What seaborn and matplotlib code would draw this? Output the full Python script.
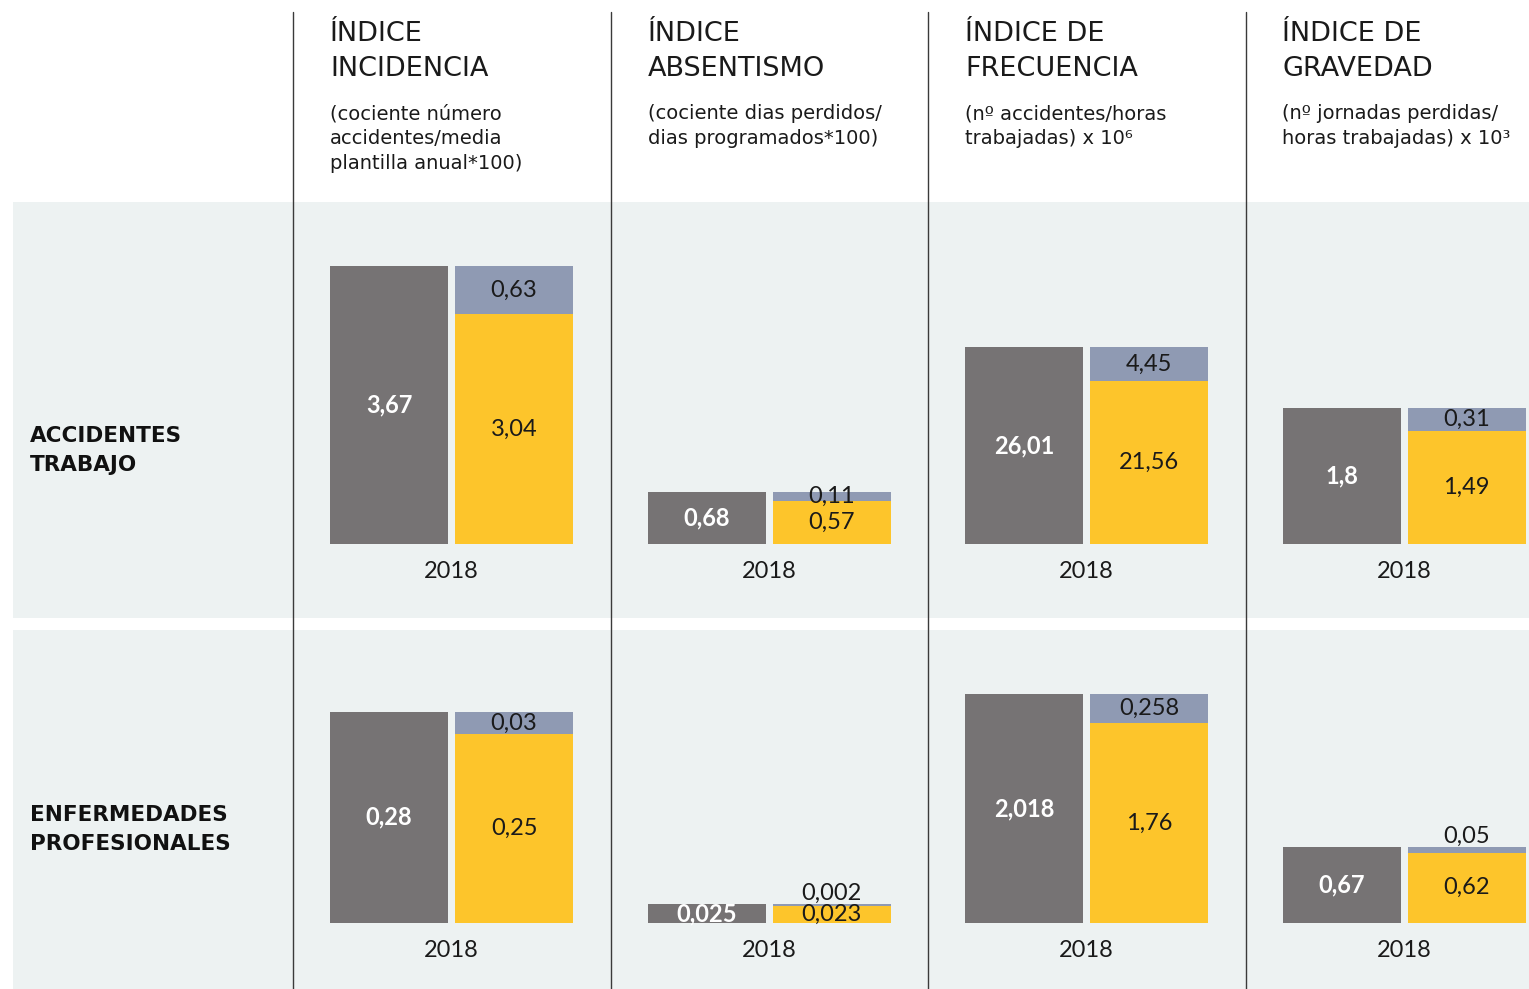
import numpy as np
import pandas as pd
import matplotlib
matplotlib.use("Agg")
import matplotlib.pyplot as plt
from matplotlib.patches import Rectangle
import seaborn as sns

# headers and row names
indices = ["ÍNDICE\nINCIDENCIA", "ÍNDICE\nABSENTISMO", "ÍNDICE DE\nFRECUENCIA", "ÍNDICE DE\nGRAVEDAD"]
subtitles = ["(cociente número\naccidentes/media\nplantilla anual*100)",
             "(cociente dias perdidos/\ndias programados*100)",
             "(nº accidentes/horas\ntrabajadas) x 10⁶",
             "(nº jornadas perdidas/\nhoras trabajadas) x 10³"]
rows = ["ACCIDENTES\nTRABAJO", "ENFERMEDADES\nPROFESIONALES"]
year = "2018"

# values: grey total, yellow part, blue part
total_at = [3.67, 0.68, 26.01, 1.8]
yellow_at = [3.04, 0.57, 21.56, 1.49]
blue_at = [0.63, 0.11, 4.45, 0.31]
total_ep = [0.28, 0.025, 2.018, 0.67]
yellow_ep = [0.25, 0.023, 1.76, 0.62]
blue_ep = [0.03, 0.002, 0.258, 0.05]

GREY = "#767374"
BLUE = "#8F9AB3"
YELLOW = "#FDC52B"
BAND = "#EDF2F2"
INK = "#1a1a1a"

W, H = 1529, 989
panel_x = [293, 610.5, 928, 1245.5]
row_base = [544, 923]
row_height = [334, 283]
ymax = [[4.41, 4.41, 44.1, 4.41], [0.375, 0.375, 2.493, 2.493]]

sns.set_theme(style="white")
plt.rcParams["font.family"] = ["DejaVu Sans"]
NUM_FONT = ["Lato", "DejaVu Sans"]

fig = plt.figure(figsize=(W / 100, H / 100), dpi=100)
bg = fig.add_axes([0, 0, 1, 1])
bg.set_xlim(0, W)
bg.set_ylim(H, 0)
bg.axis("off")

# row bands and column rules
bg.add_patch(Rectangle((13, 202), W - 13, 416, color=BAND, lw=0))
bg.add_patch(Rectangle((13, 630), W - 13, H - 630, color=BAND, lw=0))
for x in panel_x:
    bg.plot([x, x], [12, H], color="#3a3a3a", lw=1.0)

# column headers
for i in range(4):
    x0 = panel_x[i] + 37
    for j, line in enumerate(indices[i].split("\n")):
        bg.text(x0, 41 + j * 35, line, fontsize=19.5, color=INK, va="baseline", ha="left")
    for j, line in enumerate(subtitles[i].split("\n")):
        bg.text(x0, 119 + j * 25, line, fontsize=14, color=INK, va="baseline", ha="left")

# row names
for r, name in enumerate(rows):
    yb = [442, 821][r]
    for j, line in enumerate(name.split("\n")):
        bg.text(30, yb + j * 29, line, fontsize=15.5, fontweight="bold", color="#111111",
                va="baseline", ha="left")


def fmt(v):
    return str(v).replace(".", ",")


data_rows = [(total_at, yellow_at, blue_at), (total_ep, yellow_ep, blue_ep)]
for r, (tot, yel, blu) in enumerate(data_rows):
    for i in range(4):
        left = panel_x[i] + 33.5
        ax = fig.add_axes([left / W, 1 - row_base[r] / H, 250 / W, row_height[r] / H])
        ax.patch.set_alpha(0)
        df = pd.DataFrame({"bar": ["a", "b"], "value": [tot[i], yel[i] + blu[i]]})
        sns.barplot(data=df, x="bar", y="value", hue="bar", palette=[GREY, BLUE],
                    order=["a", "b"], legend=False, width=0.944, saturation=1,
                    linewidth=0, edgecolor="none", ax=ax)
        dfy = pd.DataFrame({"bar": ["b"], "value": [yel[i]]})
        sns.barplot(data=dfy, x="bar", y="value", color=YELLOW, order=["a", "b"],
                    width=0.944, saturation=1, linewidth=0, edgecolor="none", ax=ax)
        ax.set_xlim(-0.5, 1.5)
        ax.set_ylim(0, ymax[r][i])
        sns.despine(ax=ax, left=True, bottom=True)
        ax.set_yticks([])
        ax.set_xticks([])
        ax.set_ylabel("")
        ax.set_xlabel(year, fontsize=17, color=INK, labelpad=12, family=NUM_FONT)

        px = row_height[r] / ymax[r][i]
        ax.text(0, tot[i] / 2, fmt(tot[i]), color="white", fontsize=17, fontweight="bold",
                ha="center", va="center", family=NUM_FONT)
        ax.text(1, yel[i] / 2, fmt(yel[i]), color=INK, fontsize=17,
                ha="center", va="center", family=NUM_FONT)
        if blu[i] * px >= 8:
            ax.text(1, yel[i] + blu[i] / 2, fmt(blu[i]), color=INK, fontsize=17,
                    ha="center", va="center", family=NUM_FONT)
        else:
            ax.text(1, yel[i] + blu[i], fmt(blu[i]), color=INK, fontsize=17,
                    ha="center", va="bottom", family=NUM_FONT)

fig.savefig("out.png", dpi=100)
